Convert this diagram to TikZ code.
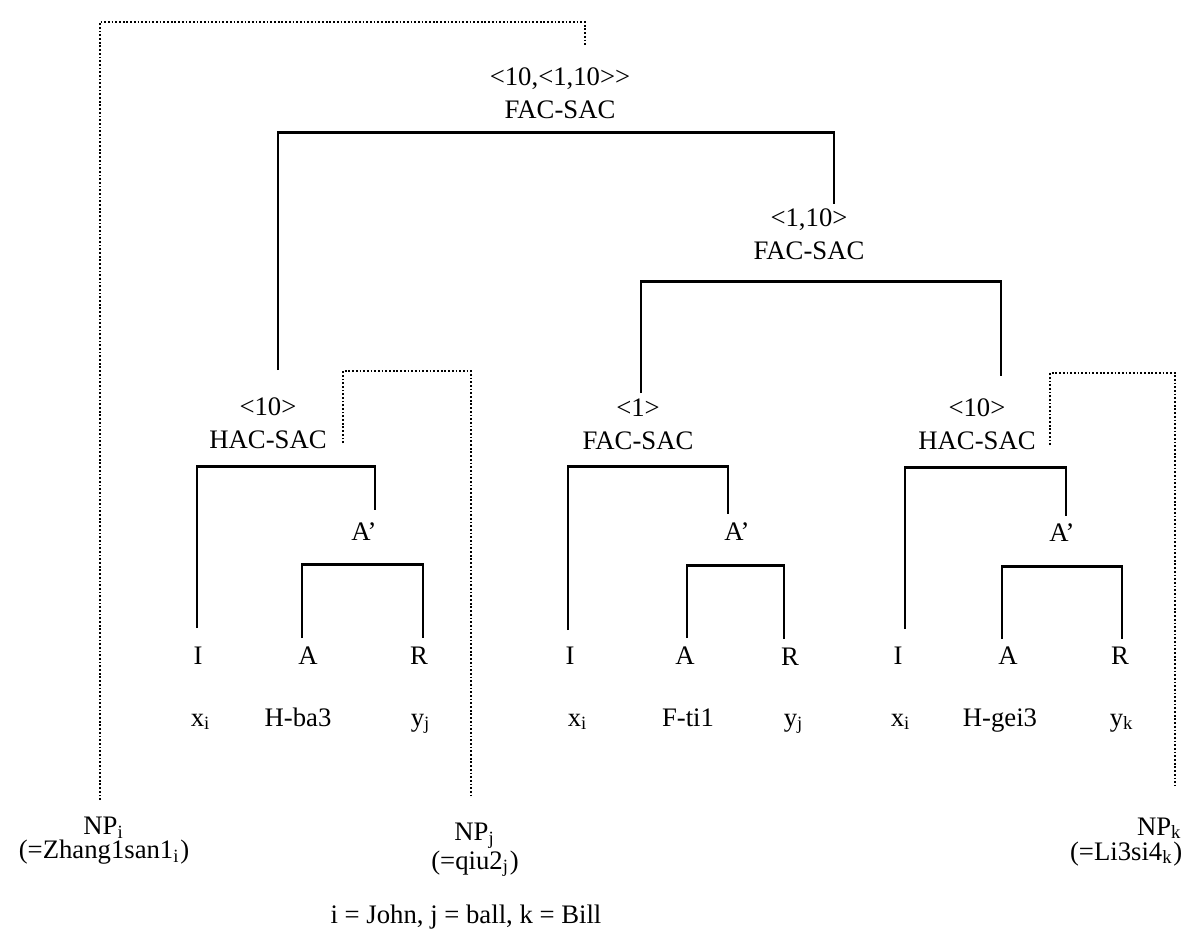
\documentclass[tikz,border=0pt]{standalone}
\usepackage{fontspec}
\setmainfont{Liberation Serif}
\usepackage{tikz}

\tikzset{
  lbl/.style={font=\fontsize{7.6}{9.4}\selectfont, align=center, inner sep=0pt},
  leaf/.style={lbl, anchor=base},
  treeline/.style={line width=.85pt, line join=miter},
  linkline/.style={line width=.5pt, dash pattern=on .5pt off .55pt}
}

\begin{document}
\begin{tikzpicture}
  \useasboundingbox (0,0) rectangle (11.85,-9.43);

  % labels of the tree
  \node[lbl] (top)  at (5.60,-0.93)  {<10,<1,10>\kern0pt>\\FAC-SAC};
  \node[lbl] (sac)  at (8.09,-2.34)  {<1,10>\\FAC-SAC};
  \node[lbl] (hacL) at (2.68,-4.23)  {<10>\\HAC-SAC};
  \node[lbl] (facM) at (6.38,-4.24)  {<1>\\FAC-SAC};
  \node[lbl] (hacR) at (9.77,-4.24)  {<10>\\HAC-SAC};

  \node[lbl] (apL) at (3.64,-5.32) {A'};
  \node[lbl] (apM) at (7.37,-5.32) {A'};
  \node[lbl] (apR) at (10.62,-5.33) {A'};

  \node[lbl] (iL) at (1.98,-6.56) {I};
  \node[lbl] (aL) at (3.08,-6.56) {A};
  \node[lbl] (rL) at (4.19,-6.56) {R};
  \node[lbl] (iM) at (5.70,-6.56) {I};
  \node[lbl] (aM) at (6.85,-6.56) {A};
  \node[lbl] (rM) at (7.90,-6.57) {R};
  \node[lbl] (iR) at (8.98,-6.56) {I};
  \node[lbl] (aR) at (10.08,-6.56) {A};
  \node[lbl] (rR) at (11.20,-6.56) {R};

  \node[leaf] (xL) at (2.01,-7.26) {x\textsubscript{i}};
  \node[leaf] (vL) at (2.98,-7.26) {H-ba3};
  \node[leaf] (yL) at (4.21,-7.26) {y\textsubscript{j}};
  \node[leaf] (xM) at (5.78,-7.26) {x\textsubscript{i}};
  \node[leaf] (vM) at (6.88,-7.26) {F-ti1};
  \node[leaf] (yM) at (7.94,-7.26) {y\textsubscript{j}};
  \node[leaf] (xR) at (9.01,-7.26) {x\textsubscript{i}};
  \node[leaf] (vR) at (10.00,-7.26) {H-gei3};
  \node[leaf] (yR) at (11.22,-7.26) {y\textsubscript{k}};

  % the three NPs and the key
  \node[lbl] (npI) at (1.04,-8.41) {NP\textsubscript{i}\\[-2.5pt](=Zhang1san1\textsubscript{i})};
  \node[lbl] (npJ) at (4.75,-8.50) {NP\textsubscript{j}\\[-1.4pt](=qiu2\textsubscript{j})};
  \node[lbl, align=right, anchor=east] (npK) at (11.83,-8.42) {NP\textsubscript{k}\\[-2.3pt](=Li3si4\textsubscript{k})};
  \node[lbl] (key) at (4.66,-9.17) {i = John, j = ball, k = Bill};

  % branches
  \coordinate (topL) at (2.78,-3.70);  \coordinate (topB) at (5.56,-1.32);  \coordinate (topR) at (8.34,-2.04);
  \coordinate (sacL) at (6.41,-3.93);  \coordinate (sacB) at (8.21,-2.81);  \coordinate (sacR) at (10.01,-3.76);
  \coordinate (hLl) at (1.97,-6.28);   \coordinate (hLb) at (2.86,-4.66);   \coordinate (hLr) at (3.75,-5.10);
  \coordinate (aLl) at (3.02,-6.38);   \coordinate (aLb) at (3.62,-5.64);   \coordinate (aLr) at (4.23,-6.38);
  \coordinate (fMl) at (5.68,-6.30);   \coordinate (fMb) at (6.48,-4.66);   \coordinate (fMr) at (7.28,-5.14);
  \coordinate (aMl) at (6.87,-6.38);   \coordinate (aMb) at (7.35,-5.655);  \coordinate (aMr) at (7.84,-6.39);
  \coordinate (hRl) at (9.05,-6.29);   \coordinate (hRb) at (9.85,-4.67);   \coordinate (hRr) at (10.66,-5.16);
  \coordinate (aRl) at (10.02,-6.39);  \coordinate (aRb) at (10.62,-5.66);  \coordinate (aRr) at (11.22,-6.39);

  \draw[treeline] (topL) |- (topB) -| (topR);
  \draw[treeline] (sacL) |- (sacB) -| (sacR);
  \draw[treeline] (hLl) |- (hLb) -| (hLr);
  \draw[treeline] (aLl) |- (aLb) -| (aLr);
  \draw[treeline] (fMl) |- (fMb) -| (fMr);
  \draw[treeline] (aMl) |- (aMb) -| (aMr);
  \draw[treeline] (hRl) |- (hRb) -| (hRr);
  \draw[treeline] (aRl) |- (aRb) -| (aRr);

  % dotted links to the NPs
  \coordinate (dIa) at (1.00,-8.00);   \coordinate (dIb) at (5.85,-0.22);   \coordinate (dIc) at (5.85,-0.45);
  \coordinate (dJa) at (3.43,-4.43);   \coordinate (dJb) at (4.71,-3.71);   \coordinate (dJc) at (4.71,-7.97);
  \coordinate (dKa) at (10.50,-4.45);  \coordinate (dKb) at (11.75,-3.73);  \coordinate (dKc) at (11.75,-7.86);

  \draw[linkline] (dIa) |- (dIb) -- (dIc);
  \draw[linkline] (dJa) |- (dJb) -- (dJc);
  \draw[linkline] (dKa) |- (dKb) -- (dKc);
\end{tikzpicture}
\end{document}
